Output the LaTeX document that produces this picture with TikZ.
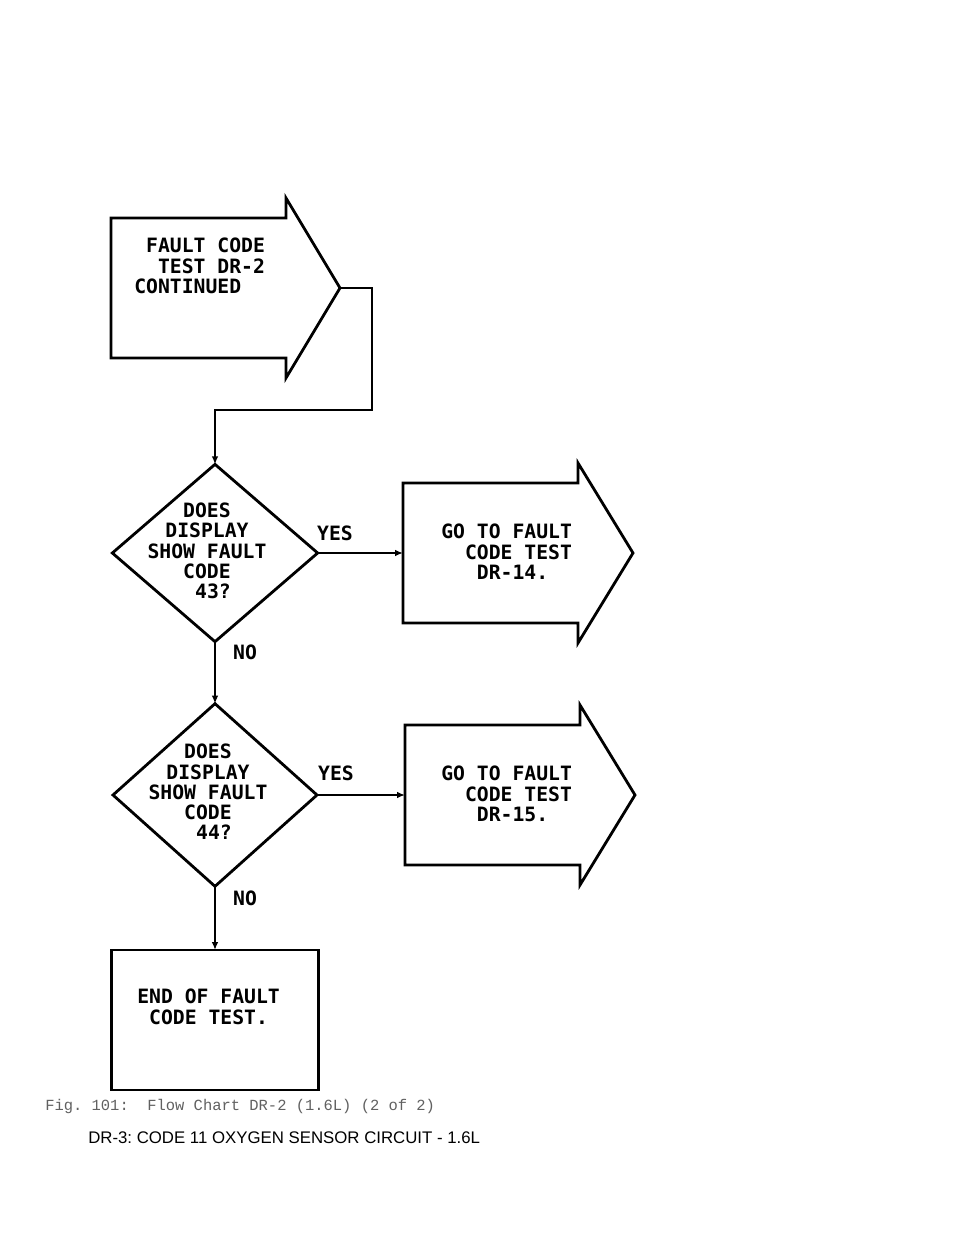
\documentclass[tikz,border=0pt]{standalone}
\usepackage{fontspec}
\setmainfont{Liberation Sans}
\newfontfamily\plotfont{DejaVu Sans Mono}
\newfontfamily\capfont{Liberation Mono}
\usetikzlibrary{shapes.geometric,arrows.meta}
\begin{document}
\begin{tikzpicture}[x=0.75pt,y=-0.75pt,
  shapeline/.style={draw=black,line width=2.1pt,line join=miter},
  conn/.style={draw=black,line width=2pt},
  arr/.style={conn,-{Latex[length=6pt,width=5pt]}},
  ftxt/.style={font=\plotfont\bfseries\fontsize{14.8}{15.2}\selectfont,inner sep=0pt,text=black},
  lbl/.style={ftxt},
  dia/.style={diamond,shapeline,inner sep=0pt,outer sep=0pt},
  endbox/.style={rectangle,shapeline,inner sep=0pt,outer sep=0pt,minimum width=155pt,minimum height=105pt}]
\useasboundingbox[fill=white] (0,0) rectangle (960,1242);

% ---- arrow 1 (start) ----
\draw[shapeline] (111,218) -- (286,218) -- (286,198) -- (340,288) -- (286,378) -- (286,358) -- (111,358) -- cycle;
\coordinate (a1p) at (340,288);
\node[ftxt,align=left,anchor=north west] (t1) at (134,238)
  {\phantom{X}FAULT CODE\\\phantom{XX}TEST DR-2\\CONTINUED};

% ---- diamond 1 ----
\node[dia,minimum width=154pt,minimum height=133pt] (d1) at (215,553) {};
\node[ftxt,align=center] (td1) at (207,551)
  {DOES\\DISPLAY\\SHOW FAULT\\CODE\\\phantom{X}43?};

% ---- arrow 2 ----
\draw[shapeline] (403,483) -- (578,483) -- (578,463) -- (633,553) -- (578,643) -- (578,623) -- (403,623) -- cycle;
\coordinate (a2l) at (403,553);
\node[ftxt,align=left,anchor=north west] (t2) at (441,524)
  {GO TO FAULT\\\phantom{XX}CODE TEST\\\phantom{XXX}DR-14.};

% ---- diamond 2 ----
\node[dia,minimum width=153pt,minimum height=137pt] (d2) at (215,795) {};
\node[ftxt,align=center] (td2) at (208,792)
  {DOES\\DISPLAY\\SHOW FAULT\\CODE\\\phantom{X}44?};

% ---- arrow 3 ----
\draw[shapeline] (405,725) -- (580,725) -- (580,705) -- (635,795) -- (580,885) -- (580,865) -- (405,865) -- cycle;
\coordinate (a3l) at (405,795);
\node[ftxt,align=left,anchor=north west] (t3) at (441,766)
  {GO TO FAULT\\\phantom{XX}CODE TEST\\\phantom{XXX}DR-15.};

% ---- end box ----
\node[endbox] (e) at (215,1020) {};
\node[ftxt,align=left,anchor=north west] (te) at (137,989)
  {END OF FAULT\\\phantom{X}CODE TEST.};

% ---- connectors ----
\draw[arr] (a1p) -- (372,288) -- (372,410) -- (215,410) -- (d1.north);
\draw[arr] (d1.east) -- (a2l);
\draw[arr] (d1.south) -- (d2.north);
\draw[arr] (d2.east) -- (a3l);
\draw[arr] (d2.south) -- (e.north);

% ---- labels ----
\node[lbl] (y1) at (335,533) {YES};
\node[lbl] (n1) at (245,652) {NO};
\node[lbl] (y2) at (336,773) {YES};
\node[lbl] (n2) at (245,898) {NO};

% ---- captions ----
\node[font=\capfont\frenchspacing\fontsize{11.6}{13}\selectfont,text=black!62,anchor=west,inner sep=0pt] (cap) at (45,1106)
  {Fig. 101:\ \ Flow Chart DR-2 (1.6L) (2 of 2)};
\node[font=\frenchspacing\fontsize{12.6}{14}\selectfont,text=black,anchor=west,inner sep=0pt] (title) at (88,1138)
  {DR-3: CODE 11 OXYGEN SENSOR CIRCUIT - 1.6L};
\end{tikzpicture}
\end{document}
